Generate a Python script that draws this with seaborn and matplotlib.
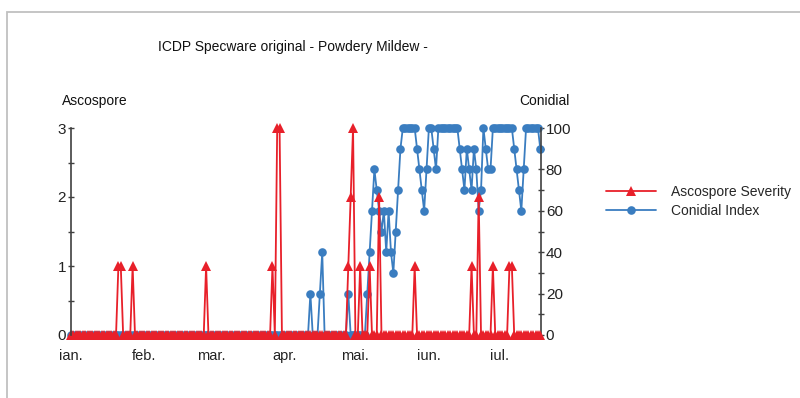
import matplotlib
matplotlib.use("Agg")
import matplotlib.pyplot as plt
import seaborn as sns
import pandas as pd
from matplotlib.patches import Rectangle
from matplotlib.ticker import MultipleLocator

sns.set_theme(style="white")
plt.rcParams["font.family"] = ["Liberation Sans", "DejaVu Sans"]

# ---------------- data (daily values) ----------------
start_date = "2009-01-01"
month_starts = ["2009-01-01", "2009-02-01", "2009-03-01", "2009-04-01",
                "2009-05-01", "2009-06-01", "2009-07-01"]
month_labels = ["ian.", "feb.", "mar.", "apr.", "mai.", "iun.", "iul."]

asco_jan = [0, 0, 0, 0, 0, 0, 0, 0, 0, 0, 0, 0, 0, 0, 0, 0, 0, 0, 0, 0, 1, 1, 0, 0, 0, 0, 1, 0, 0, 0, 0]
asco_feb = [0, 0, 0, 0, 0, 0, 0, 0, 0, 0, 0, 0, 0, 0, 0, 0, 0, 0, 0, 0, 0, 0, 0, 0, 0, 0, 1, 0]
asco_mar = [0, 0, 0, 0, 0, 0, 0, 0, 0, 0, 0, 0, 0, 0, 0, 0, 0, 0, 0, 0, 0, 0, 0, 0, 0, 0, 1, 0, 3, 3, 0]
asco_apr = [0, 0, 0, 0, 0, 0, 0, 0, 0, 0, 0, 0, 0, 0, 0, 0, 0, 0, 0, 0, 0, 0, 0, 0, 0, 0, 0, 1, 2, 3]
asco_may = [0, 0, 1, 0, 0, 0, 1, 0, 0, 0, 2, 0, 0, 0, 0, 0, 0, 0, 0, 0, 0, 0, 0, 0, 0, 1, 0, 0, 0, 0, 0]
asco_jun = [0, 0, 0, 0, 0, 0, 0, 0, 0, 0, 0, 0, 0, 0, 0, 0, 0, 0, 1, 0, 0, 2, 0, 0, 0, 0, 0, 1, 0, 0]
asco_jul = [0, 0, 0, 0, 1, 1, 0, 0, 0, 0, 0, 0, 0, 0, 0, 0, 0, 0]

con_jan = [0, 0, 0, 0, 0, 0, 0, 0, 0, 0, 0, 0, 0, 0, 0, 0, 0, 0, 0, 0, 0, 0, 0, 0, 0, 0, 0, 0, 0, 0, 0]
con_feb = [0, 0, 0, 0, 0, 0, 0, 0, 0, 0, 0, 0, 0, 0, 0, 0, 0, 0, 0, 0, 0, 0, 0, 0, 0, 0, 0, 0]
con_mar = [0, 0, 0, 0, 0, 0, 0, 0, 0, 0, 0, 0, 0, 0, 0, 0, 0, 0, 0, 0, 0, 0, 0, 0, 0, 0, 0, 0, 0, 0, 0]
con_apr = [0, 0, 0, 0, 0, 0, 0, 0, 0, 0, 0, 20, 0, 0, 0, 20, 40, 0, 0, 0, 0, 0, 0, 0, 0, 0, 0, 20, 0, 0]
con_may = [0, 0, 0, 0, 0, 20, 40, 60, 80, 70, 60, 50, 60, 40, 60, 40, 30, 50, 70, 90,
           100, 100, 100, 100, 100, 100, 90, 80, 70, 60, 80]
con_jun = [100, 100, 90, 80, 100, 100, 100, 100, 100, 100, 100, 100, 100, 90, 80,
           70, 90, 80, 70, 90, 80, 60, 70, 100, 90, 80, 80, 100, 100, 100]
con_jul = [100, 100, 100, 100, 100, 100, 90, 80, 70, 60, 80, 100, 100, 100, 100, 100, 100, 90]

ascospore = asco_jan + asco_feb + asco_mar + asco_apr + asco_may + asco_jun + asco_jul
conidial = con_jan + con_feb + con_mar + con_apr + con_may + con_jun + con_jul

RED = "#E8202A"
BLUE = "#3A7DC0"

dates = pd.date_range(start_date, periods=len(ascospore), freq="D")
df = pd.DataFrame({"date": dates, "Ascospore Severity": ascospore, "Conidial Index": conidial})

# ---------------- figure ----------------
W, H = 800, 398
fig = plt.figure(figsize=(W / 100, H / 100), dpi=100)
fig.patch.set_facecolor("white")
ax = fig.add_axes([71 / W, 1 - 335 / H, 470 / W, 207 / H])
ax2 = ax.twinx()

sns.lineplot(data=df, x="date", y="Conidial Index", ax=ax2, color=BLUE, marker="o",
             markersize=6.2, markeredgewidth=0, linewidth=1.3, clip_on=False,
             label="Conidial Index")
sns.lineplot(data=df, x="date", y="Ascospore Severity", ax=ax, color=RED, marker="^",
             markersize=7, markeredgewidth=0, linewidth=1.3, clip_on=False,
             label="Ascospore Severity")

ax.set_zorder(ax2.get_zorder() + 1)
ax.patch.set_visible(False)

h1, l1 = ax.get_legend_handles_labels()
h2, l2 = ax2.get_legend_handles_labels()
for a in (ax, ax2):
    if a.get_legend() is not None:
        a.get_legend().remove()
    a.set_xlabel("")
    a.set_ylabel("")

ax.set_xlim(dates[0], dates[0] + pd.Timedelta(days=198.3))
ax.set_ylim(0, 3)
ax2.set_ylim(0, 100)

ax.set_xticks(pd.to_datetime(month_starts))
ax.set_xticklabels(month_labels)
ax.set_yticks([0, 1, 2, 3])
ax.set_yticklabels(["0", "1", "2", "3"])
ax.yaxis.set_minor_locator(MultipleLocator(0.5))
ax2.set_yticks(list(range(0, 101, 20)))
ax2.yaxis.set_minor_locator(MultipleLocator(10))

for s in ["top", "right", "bottom"]:
    ax.spines[s].set_visible(False)
for s in ["top", "left", "bottom"]:
    ax2.spines[s].set_visible(False)
ax.spines["left"].set_color("#404040")
ax.spines["left"].set_linewidth(1.2)
ax2.spines["right"].set_color("#404040")
ax2.spines["right"].set_linewidth(1.2)

ax.tick_params(axis="x", which="both", length=0, pad=10, labelsize=10.5, colors="#222222")
ax.tick_params(axis="y", which="both", left=True, direction="inout", length=5, width=1,
               color="#404040", labelsize=11, pad=1, labelcolor="#222222")
ax2.tick_params(axis="y", which="both", right=True, direction="inout", length=5, width=1,
                color="#404040", labelsize=11, pad=1, labelcolor="#222222")

# titles / axis captions
fig.text(293 / W, 1 - 47 / H, "ICDP Specware original - Powdery Mildew -",
         ha="center", va="center", fontsize=10, color="#111111",
         family=["Liberation Sans Narrow", "Liberation Sans", "DejaVu Sans"])
fig.text(95 / W, 1 - 101 / H, "Ascospore", ha="center", va="center", fontsize=10, color="#111111")
fig.text(544 / W, 1 - 101 / H, "Conidial", ha="center", va="center", fontsize=10, color="#111111")

fig.legend(h1 + h2, l1 + l2, loc="upper left", bbox_to_anchor=(606 / W, 1 - 185 / H),
           frameon=False, fontsize=10, handlelength=3.6, handletextpad=1.1,
           labelspacing=0.35, borderpad=0, borderaxespad=0)

# window frame
fig.patches.append(Rectangle((7 / W, -0.05), 1.0, 1 - 12 / H + 0.05, transform=fig.transFigure,
                             fill=False, edgecolor="#c0c0c0", linewidth=1.3))

fig.savefig("out.png", dpi=100)
